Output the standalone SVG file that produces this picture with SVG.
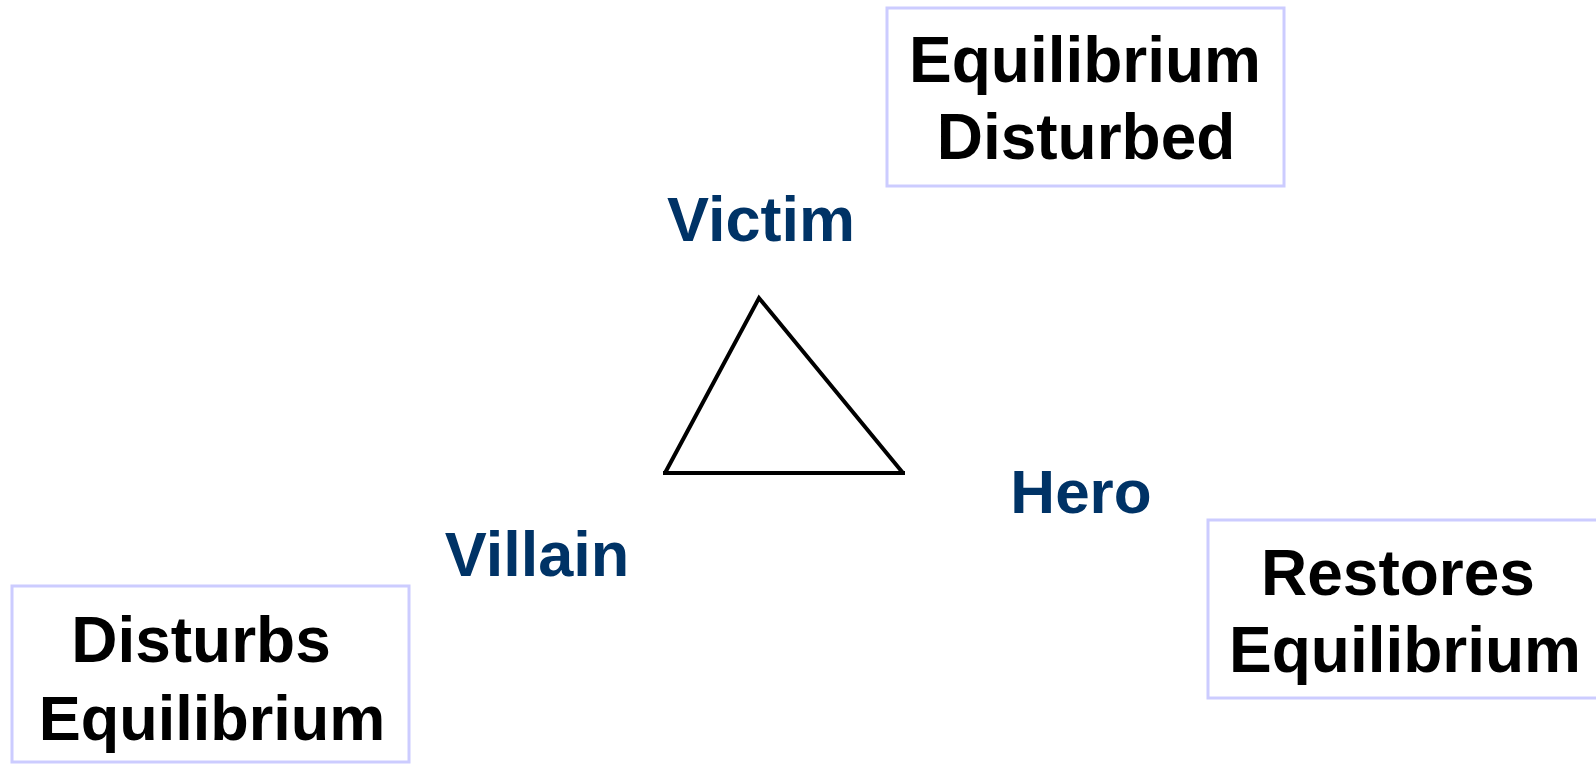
<svg xmlns="http://www.w3.org/2000/svg" width="1596" height="764" viewBox="0 0 1596 764">
<style>
.box{fill:#ffffff;stroke:#ccccff;stroke-width:3}
.bt{font-family:"Liberation Sans",Arial,sans-serif;font-weight:bold;font-size:64px;fill:#000000;text-anchor:middle}
.lbl{font-family:"Liberation Sans",Arial,sans-serif;font-weight:bold;font-size:62px;fill:#003366;text-anchor:middle}
.tri{fill:none;stroke:#000000;stroke-width:4;stroke-linejoin:miter}
</style>
<rect width="1596" height="764" fill="#ffffff"/>
<g id="connectors">
<polyline class="tri" points="665,473 759,298 903,473"/>
<line class="tri" x1="663" y1="473" x2="905" y2="473" stroke-width="5"/>
</g>
<g id="box-equilibrium-disturbed">
<rect class="box" x="887" y="8" width="397" height="178"/>
<text class="bt" x="1085" y="82">Equilibrium</text>
<text class="bt" x="1086" y="159">Disturbed</text>
</g>
<g id="box-disturbs-equilibrium">
<rect class="box" x="12" y="586" width="397" height="176"/>
<text class="bt" x="201" y="662">Disturbs</text>
<text class="bt" x="212" y="740" style="font-size:63px">Equilibrium</text>
</g>
<g id="box-restores-equilibrium">
<rect class="box" x="1208" y="520" width="400" height="178"/>
<text class="bt" x="1398" y="595">Restores</text>
<text class="bt" x="1405" y="672">Equilibrium</text>
</g>
<g id="victim"><text class="lbl" x="761" y="241" style="font-size:63px">Victim</text></g>
<g id="villain"><text class="lbl" x="537" y="576" style="font-size:63px">Villain</text></g>
<g id="hero"><text class="lbl" x="1081" y="513">Hero</text></g>
</svg>
